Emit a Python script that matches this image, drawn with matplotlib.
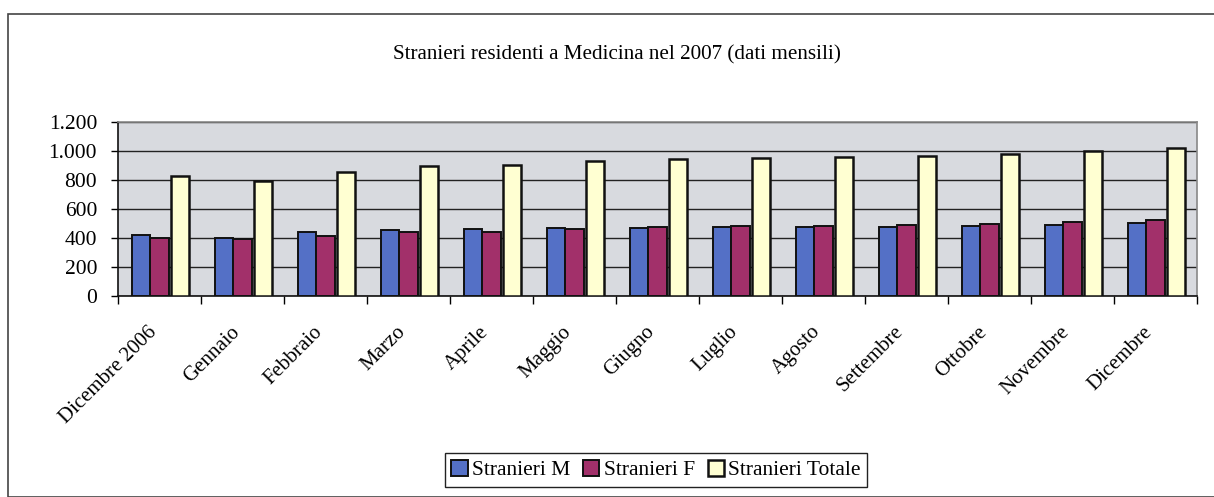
import numpy as np
import matplotlib
matplotlib.use('Agg')
import matplotlib.pyplot as plt
from matplotlib.patches import Rectangle
from matplotlib.ticker import FuncFormatter

matplotlib.rcParams['font.family'] = ['Liberation Serif', 'DejaVu Serif']

mesi = ['Dicembre 2006', 'Gennaio', 'Febbraio', 'Marzo', 'Aprile', 'Maggio',
        'Giugno', 'Luglio', 'Agosto', 'Settembre', 'Ottobre', 'Novembre', 'Dicembre']
maschi = [422, 399, 440, 458, 460, 467, 472, 474, 476, 478, 481, 490, 501]
femmine = [402, 393, 417, 440, 442, 464, 474, 482, 486, 490, 497, 510, 524]
totale = [826, 795, 855, 897, 902, 928, 944, 953, 960, 966, 977, 999, 1022]

fig = plt.figure(figsize=(12.14, 4.97), dpi=100)
ax = fig.add_axes([0.0972, 0.4044, 0.8888, 0.3501])

# frame around the whole chart
fig.patches.append(Rectangle((8 / 1214, 0), 1.2, 1 - 14 / 497, transform=fig.transFigure,
                             fill=False, edgecolor='#444444', linewidth=1.2))

x = np.arange(len(mesi))
w = 0.22
ax.bar(x - 0.225, maschi, w, color='#5470c6', edgecolor='#111111', linewidth=1.4,
       label='Stranieri M', zorder=3)
ax.bar(x, femmine, w, color='#a2306a', edgecolor='#111111', linewidth=1.4,
       label='Stranieri F', zorder=3)
ax.bar(x + 0.245, totale, w, color='#ffffd2', edgecolor='#111111', linewidth=1.8,
       label='Stranieri Totale', zorder=3)

ax.set_facecolor('#d8dadf')
ax.set_xlim(-0.5, len(mesi) - 0.5)
ax.set_ylim(0, 1200)
ax.set_yticks(range(0, 1201, 200))
ax.yaxis.set_major_formatter(FuncFormatter(lambda v, p: f'{int(v):,}'.replace(',', '.')))
ax.yaxis.grid(True, color='#222222', linewidth=1.0, zorder=1)
ax.set_axisbelow(True)

ax.set_xticks(x - 0.15)
ax.set_xticklabels(mesi, rotation=45, ha='right', va='top', rotation_mode='anchor')
ax.set_xticks(np.arange(-0.5, len(mesi)), minor=True)
ax.tick_params(axis='x', which='major', length=0, pad=19, labelsize=15)
ax.tick_params(axis='x', which='minor', length=6, width=1, direction='out')
ax.tick_params(axis='y', length=5, width=1, pad=10, labelsize=15.5)

for s in ['left', 'bottom']:
    ax.spines[s].set_color('#111111')
    ax.spines[s].set_linewidth(1.2)
for s in ['top', 'right']:
    ax.spines[s].set_color('#888888')
    ax.spines[s].set_linewidth(1.2)

fig.text(617 / 1214, 1 - 55 / 497, 'Stranieri residenti a Medicina nel 2007 (dati mensili)',
         ha='center', va='center', fontsize=15.2)

leg = fig.legend(loc='center', bbox_to_anchor=(656 / 1214, 1 - 470 / 497), ncol=3,
                 fontsize=15.5, handlelength=0.75, handleheight=0.75, handletextpad=0.2,
                 columnspacing=0.6, borderpad=0.3, fancybox=False, edgecolor='#222222',
                 framealpha=1)
leg.get_frame().set_linewidth(1.0)

fig.savefig('out.png', dpi=100)
